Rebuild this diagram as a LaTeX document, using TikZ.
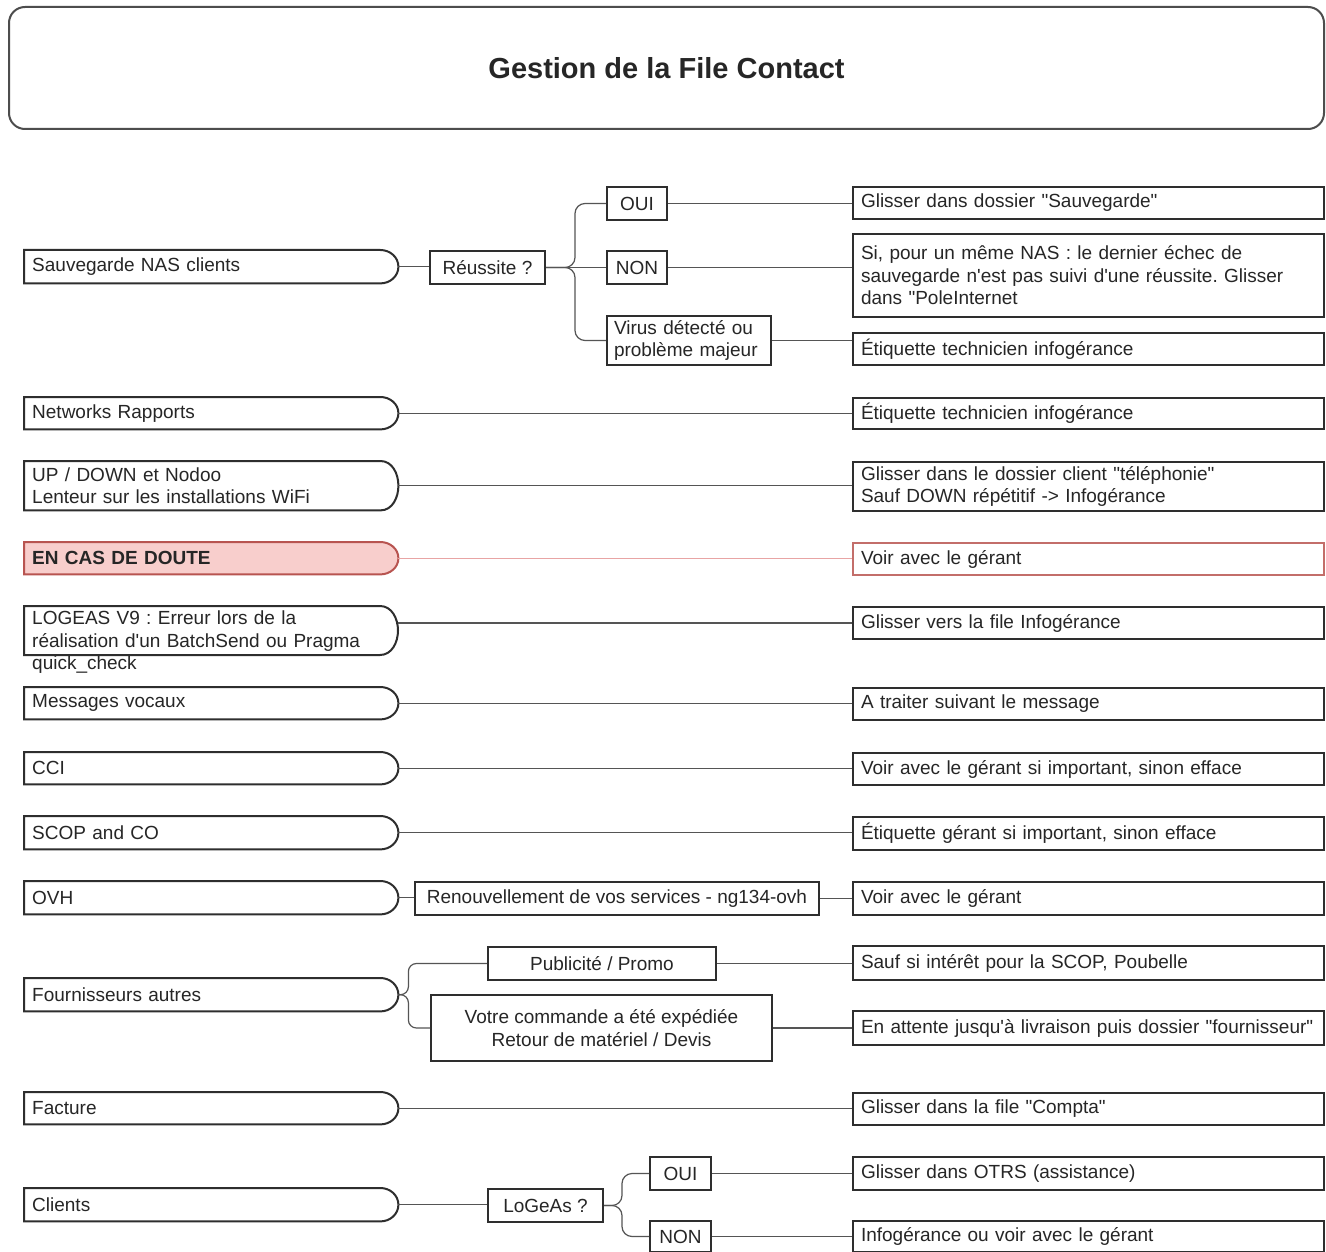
\documentclass[tikz,border=0pt]{standalone}
\usepackage{fontspec}
\setmainfont{Liberation Sans}[Ligatures=TeXOff]
\usetikzlibrary{backgrounds}
\definecolor{bord}{HTML}{2E2E2E}
\definecolor{conn}{HTML}{555555}
\definecolor{txt}{HTML}{262626}
\definecolor{pinkfill}{HTML}{F8CECC}
\definecolor{pinkline}{HTML}{B85450}
\definecolor{pinkconn}{HTML}{E8A4A4}
\newcommand\fs{\fontsize{19}{22.5}\selectfont}
\newcommand\lshape[2][]{\draw[lline,#1] (#2.north west) -- ([xshift=-18pt]#2.north east) to[out=0,in=90] (#2.east) to[out=-90,in=0] ([xshift=-18pt]#2.south east) -- (#2.south west) -- cycle;}
\frenchspacing
\begin{document}
\begin{tikzpicture}[x=1pt,y=-1pt,
 lline/.style={draw=bord, line width=2pt},
 lnode/.style={anchor=north west, minimum width=374pt, text width=358pt, inner xsep=8pt, inner ysep=0pt, align=left, font=\fs, text=txt},
 rnode/.style={draw=bord, line width=2pt, anchor=north west, minimum width=471pt, text width=455pt, inner xsep=8pt, inner ysep=0pt, align=left, font=\fs, text=txt},
 mnode/.style={draw=bord, line width=2pt, anchor=north west, inner sep=0pt, align=center, font=\fs, text=txt},
 cn/.style={draw=conn, line width=1.2pt},
 br/.style={cn, rounded corners=10pt},
]
\useasboundingbox (0,0) rectangle (1326,1252);
\begin{pgfonlayer}{background}
\fill[white] (0,0) rectangle (1326,1252);
\end{pgfonlayer}

% title
\node[draw=bord!85, line width=2pt, rounded corners=16pt, anchor=north west,
  minimum width=1315pt, minimum height=122pt,
  font=\fontsize{29}{34}\selectfont\bfseries, text=txt] (title) at (8,6) {Gestion de la File Contact};

% left boxes
\node[lnode, minimum height=33pt] (l1) at (24,250) {Sauvegarde NAS clients};
\node[lnode, minimum height=32pt] (l2) at (24,397) {Networks Rapports};
\node[lnode, minimum height=49pt] (l3) at (24,461) {UP / DOWN et Nodoo\\Lenteur sur les installations WiFi};
\node[lnode, minimum height=32pt, font=\fs\bfseries] (l4) at (24,542) {EN CAS DE DOUTE};
\node[lnode, minimum height=0pt] (l5) at (24,611) {LOGEAS V9 : Erreur lors de la\\réalisation d'un BatchSend ou Pragma\\quick\_check};
\node[lnode, minimum height=32pt] (l6) at (24,687) {Messages vocaux};
\node[lnode, minimum height=32pt] (l7) at (24,752) {CCI};
\node[lnode, minimum height=33pt] (l8) at (24,816) {SCOP and CO};
\node[lnode, minimum height=33pt] (l9) at (24,881) {OVH};
\node[lnode, minimum height=33pt] (l10) at (24,978) {Fournisseurs autres};
\node[lnode, minimum height=32pt] (l11) at (24,1092) {Facture};
\node[lnode, minimum height=33pt] (l12) at (24,1188) {Clients};

\lshape{l1}
\lshape{l2}
\lshape{l3}
\begin{pgfonlayer}{background}
\lshape[draw=pinkline, fill=pinkfill]{l4}
\end{pgfonlayer}
\draw[lline] (24,606) -- (380,606) to[out=0,in=90] (398,630.5) to[out=-90,in=0] (380,655) -- (24,655) -- cycle;
\lshape{l6}
\lshape{l7}
\lshape{l8}
\lshape{l9}
\lshape{l10}
\lshape{l11}
\lshape{l12}

% middle boxes
\node[mnode, minimum width=115pt, minimum height=33pt] (re) at (429,250) {Réussite ?};
\node[mnode, minimum width=60pt, minimum height=33pt] (o1) at (606,186) {OUI};
\node[mnode, minimum width=60pt, minimum height=33pt] (n1) at (606,250) {NON};
\node[mnode, minimum width=164pt, minimum height=49pt, text width=150pt, inner xsep=7pt, align=left] (vi) at (606,315) {Virus détecté ou\\problème majeur};
\node[mnode, minimum width=404pt, minimum height=33pt] (rn) at (414,881) {Renouvellement de vos services - ng134-ovh};
\node[mnode, minimum width=228pt, minimum height=33pt] (pu) at (487,946) {Publicité / Promo};
\node[mnode, minimum width=341pt, minimum height=66pt] (vo) at (430,994) {Votre commande a été expédiée\\Retour de matériel / Devis};
\node[mnode, minimum width=115pt, minimum height=33pt] (lo) at (487,1188) {LoGeAs ?};
\node[mnode, minimum width=61pt, minimum height=33pt] (o2) at (649,1156) {OUI};
\node[mnode, minimum width=61pt, minimum height=31pt] (n2) at (649,1220) {NON};

% right boxes
\node[rnode, minimum height=32pt] (r1a) at (852,186) {Glisser dans dossier "Sauvegarde"};
\node[rnode, minimum height=83pt] (r1b) at (852,233) {Si, pour un même NAS : le dernier échec de\\sauvegarde n'est pas suivi d'une réussite. Glisser\\dans "PoleInternet};
\node[rnode, minimum height=32pt] (r1c) at (852,332) {Étiquette technicien infogérance};
\node[rnode, minimum height=31pt] (r2) at (852,397) {Étiquette technicien infogérance};
\node[rnode, minimum height=49pt] (r3) at (852,461) {Glisser dans le dossier client "téléphonie"\\Sauf DOWN répétitif -> Infogérance};
\node[rnode, minimum height=32pt, draw=pinkline!85] (r4) at (852,542) {Voir avec le gérant};
\node[rnode, minimum height=32pt] (r5) at (852,606) {Glisser vers la file Infogérance};
\node[rnode, minimum height=32pt] (r6) at (852,687) {A traiter suivant le message};
\node[rnode, minimum height=32pt] (r7) at (852,752) {Voir avec le gérant si important, sinon efface};
\node[rnode, minimum height=33pt] (r8) at (852,816) {Étiquette gérant si important, sinon efface};
\node[rnode, minimum height=33pt] (r9) at (852,881) {Voir avec le gérant};
\node[rnode, minimum height=34pt] (r10a) at (852,945) {Sauf si intérêt pour la SCOP, Poubelle};
\node[rnode, minimum height=34pt] (r10b) at (852,1010) {En attente jusqu'à livraison puis dossier "fournisseur"};
\node[rnode, minimum height=32pt] (r11) at (852,1092) {Glisser dans la file "Compta"};
\node[rnode, minimum height=33pt] (r12a) at (852,1156) {Glisser dans OTRS (assistance)};
\node[rnode, minimum height=31pt] (r12b) at (852,1220) {Infogérance ou voir avec le gérant};

% connectors
\draw[cn] (l1.east) -- (l1.east -| re.west);
\draw[br] (re.east) -- ++(29,0) |- (o1.west);
\draw[cn] (re.east) -- (re.east -| n1.west);
\draw[br] (re.east) -- ++(29,0) |- (vi.west);
\draw[cn] (o1.east) -- (o1.east -| r1a.west);
\draw[cn] (n1.east) -- (n1.east -| r1b.west);
\draw[cn] (vi.east) -- (vi.east -| r1c.west);
\draw[cn] (l2.east) -- (l2.east -| r2.west);
\draw[cn] (l3.east) -- (l3.east -| r3.west);
\draw[cn, draw=pinkconn] (l4.east) -- (l4.east -| r4.west);
\draw[cn] (l5.east |- r5.west) -- (r5.west);
\draw[cn] (l6.east) -- (l6.east -| r6.west);
\draw[cn] (l7.east) -- (l7.east -| r7.west);
\draw[cn] (l8.east) -- (l8.east -| r8.west);
\draw[cn] (l9.east) -- (l9.east -| rn.west);
\draw[cn] (rn.east) -- (rn.east -| r9.west);
\draw[br, rounded corners=8pt] (l10.east) -- ++(10,0) |- (pu.west);
\draw[br, rounded corners=8pt] (l10.east) -- ++(10,0) |- (vo.west);
\draw[cn] (pu.east) -- (pu.east -| r10a.west);
\draw[cn] (vo.east) -- (vo.east -| r10b.west);
\draw[cn] (l11.east) -- (l11.east -| r11.west);
\draw[cn] (l12.east) -- (l12.east -| lo.west);
\draw[br] (lo.east) -- ++(18,0) |- (o2.west);
\draw[br] (lo.east) -- ++(18,0) |- (n2.west);
\draw[cn] (o2.east) -- (o2.east -| r12a.west);
\draw[cn] (n2.east) -- (n2.east -| r12b.west);
\end{tikzpicture}
\end{document}
